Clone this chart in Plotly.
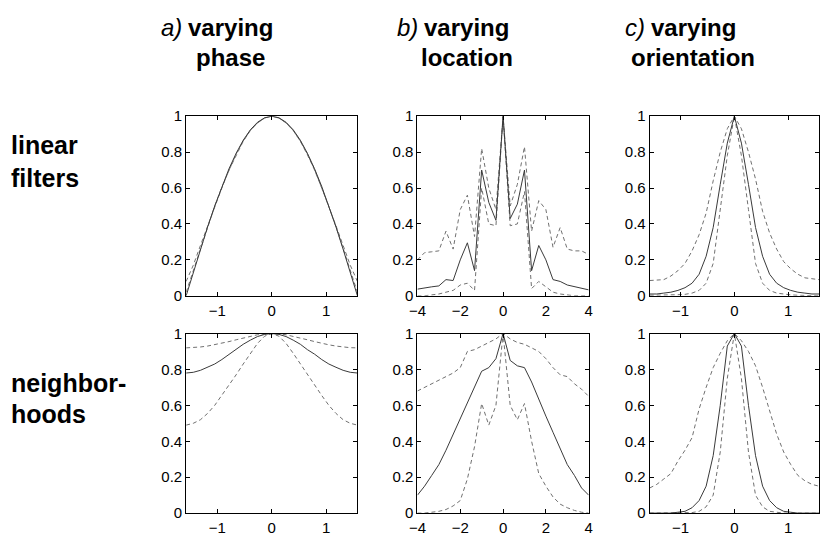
import plotly.graph_objects as go

W, H = 823, 536

# ---------------- data ----------------
x_angle = [-1.571, -1.440, -1.309, -1.178, -1.047, -0.916, -0.785, -0.654, -0.524, -0.393, -0.262, -0.131, 0.0,
           0.131, 0.262, 0.393, 0.524, 0.654, 0.785, 0.916, 1.047, 1.178, 1.309, 1.440, 1.571]
x_loc = [-4, -3.667, -3.333, -3, -2.667, -2.333, -2, -1.667, -1.333, -1, -0.667, -0.333, 0,
         0.333, 0.667, 1, 1.333, 1.667, 2, 2.333, 2.667, 3, 3.333, 3.667, 4]

# linear filters, varying phase
lin_phase_solid = [0.0, 0.131, 0.259, 0.383, 0.5, 0.609, 0.707, 0.793, 0.866, 0.924, 0.966, 0.991, 1.0,
                   0.991, 0.966, 0.924, 0.866, 0.793, 0.707, 0.609, 0.5, 0.383, 0.259, 0.131, 0.0]
lin_phase_dash1 = [0.08, 0.17, 0.28, 0.39, 0.50, 0.60, 0.70, 0.785, 0.86, 0.92, 0.962, 0.99, 1.0,
                   0.99, 0.962, 0.92, 0.86, 0.785, 0.70, 0.60, 0.50, 0.39, 0.28, 0.17, 0.08]
lin_phase_dash2 = [0.02, 0.14, 0.265, 0.385, 0.498, 0.605, 0.703, 0.79, 0.862, 0.921, 0.963, 0.99, 1.0,
                   0.99, 0.963, 0.921, 0.862, 0.79, 0.703, 0.605, 0.498, 0.385, 0.265, 0.14, 0.02]

# linear filters, varying location
lin_loc_solid = [0.037, 0.045, 0.05, 0.055, 0.09, 0.085, 0.2, 0.295, 0.14, 0.70, 0.52, 0.42, 1.0,
                 0.43, 0.51, 0.70, 0.14, 0.28, 0.2, 0.09, 0.08, 0.06, 0.05, 0.04, 0.033]
lin_loc_upper = [0.2, 0.24, 0.245, 0.25, 0.36, 0.26, 0.48, 0.56, 0.33, 0.82, 0.60, 0.48, 1.0,
                 0.50, 0.62, 0.83, 0.36, 0.53, 0.48, 0.27, 0.38, 0.26, 0.25, 0.25, 0.23]
lin_loc_lower = [0.0, 0.0, 0.005, 0.01, 0.02, 0.03, 0.06, 0.07, 0.03, 0.60, 0.40, 0.39, 1.0,
                 0.39, 0.40, 0.58, 0.04, 0.08, 0.05, 0.02, 0.01, 0.005, 0.0, 0.0, 0.0]

# linear filters, varying orientation
lin_ori_solid = [0.01, 0.01, 0.015, 0.02, 0.03, 0.045, 0.07, 0.12, 0.22, 0.38, 0.62, 0.85, 1.0,
                 0.85, 0.62, 0.38, 0.22, 0.12, 0.07, 0.045, 0.03, 0.02, 0.015, 0.01, 0.01]
lin_ori_wide = [0.085, 0.087, 0.09, 0.11, 0.14, 0.18, 0.25, 0.34, 0.46, 0.64, 0.80, 0.93, 1.0,
                0.93, 0.80, 0.65, 0.47, 0.35, 0.26, 0.19, 0.15, 0.12, 0.10, 0.095, 0.09]
lin_ori_narrow = [0.003, 0.003, 0.004, 0.005, 0.006, 0.008, 0.015, 0.03, 0.07, 0.18, 0.48, 0.78, 1.0,
                  0.78, 0.48, 0.18, 0.07, 0.03, 0.015, 0.008, 0.005, 0.003, 0.002, 0.0, 0.0]

# neighborhoods, varying phase
nb_phase_solid = [0.78, 0.784, 0.795, 0.812, 0.83, 0.855, 0.885, 0.91, 0.94, 0.963, 0.983, 0.995, 1.0,
                  0.995, 0.983, 0.963, 0.94, 0.91, 0.885, 0.855, 0.83, 0.812, 0.795, 0.784, 0.78]
nb_phase_upper = [0.92, 0.921, 0.925, 0.93, 0.937, 0.945, 0.955, 0.965, 0.975, 0.985, 0.993, 0.998, 1.0,
                  0.998, 0.993, 0.985, 0.975, 0.965, 0.955, 0.945, 0.937, 0.93, 0.925, 0.921, 0.92]
nb_phase_lower = [0.49, 0.50, 0.52, 0.555, 0.60, 0.655, 0.71, 0.77, 0.83, 0.89, 0.945, 0.985, 1.0,
                  0.985, 0.945, 0.89, 0.83, 0.77, 0.71, 0.655, 0.60, 0.555, 0.52, 0.50, 0.49]

# neighborhoods, varying location
nb_loc_solid = [0.10, 0.15, 0.21, 0.27, 0.35, 0.44, 0.53, 0.62, 0.70, 0.79, 0.81, 0.86, 1.0,
                0.85, 0.82, 0.81, 0.73, 0.64, 0.54, 0.45, 0.36, 0.27, 0.21, 0.14, 0.10]
nb_loc_upper = [0.68, 0.70, 0.72, 0.74, 0.76, 0.78, 0.81, 0.90, 0.91, 0.93, 0.95, 0.97, 1.0,
                0.97, 0.95, 0.94, 0.92, 0.90, 0.86, 0.81, 0.77, 0.76, 0.72, 0.69, 0.65]
nb_loc_lower = [0.0, 0.0, 0.005, 0.01, 0.02, 0.04, 0.07, 0.19, 0.37, 0.61, 0.49, 0.60, 1.0,
                0.60, 0.52, 0.61, 0.40, 0.22, 0.15, 0.09, 0.05, 0.03, 0.015, 0.005, 0.0]

# neighborhoods, varying orientation
nb_ori_solid = [0, 0, 0, 0, 0.005, 0.01, 0.03, 0.07, 0.15, 0.32, 0.60, 0.93, 1.0,
                0.93, 0.60, 0.32, 0.15, 0.07, 0.03, 0.01, 0.005, 0, 0, 0, 0]
nb_ori_narrow = [0, 0, 0, 0, 0, 0, 0.003, 0.01, 0.035, 0.10, 0.34, 0.75, 1.0,
                 0.75, 0.34, 0.10, 0.035, 0.01, 0.003, 0, 0, 0, 0, 0, 0]
nb_ori_wide = [0.14, 0.16, 0.19, 0.22, 0.29, 0.35, 0.42, 0.58, 0.70, 0.81, 0.89, 0.96, 1.0,
               0.96, 0.90, 0.82, 0.70, 0.57, 0.44, 0.34, 0.27, 0.21, 0.18, 0.16, 0.15]

col_titles = [("a)", "varying", "phase"), ("b)", "varying", "location"), ("c)", "varying", "orientation")]
row_titles = [("linear", "filters"), ("neighbor-", "hoods")]
y_ticks = [0, 0.2, 0.4, 0.6, 0.8, 1]
y_tick_text = ["0", "0.2", "0.4", "0.6", "0.8", "1"]
angle_ticks = [-1, 0, 1]
loc_ticks = [-4, -2, 0, 2, 4]

# ---------------- layout helpers ----------------
# the page is shown with an 8 px top offset and a slight vertical squeeze;
# target pixel rows are converted back to figure rows here
V_OFF, V_SCALE = 8.0, 0.9701

def px(x):
    return x / W

def py(y):
    return 1 - ((y - V_OFF) / V_SCALE) / H

col_px = [(180, 354), (415, 589), (651, 823)]
row_px = [(116, 297), (335, 516)]

panels = [
    [(x_angle, lin_phase_solid, [lin_phase_dash1, lin_phase_dash2]),
     (x_loc, lin_loc_solid, [lin_loc_upper, lin_loc_lower]),
     (x_angle, lin_ori_solid, [lin_ori_wide, lin_ori_narrow])],
    [(x_angle, nb_phase_solid, [nb_phase_upper, nb_phase_lower]),
     (x_loc, nb_loc_solid, [nb_loc_upper, nb_loc_lower]),
     (x_angle, nb_ori_solid, [nb_ori_narrow, nb_ori_wide])],
]

SOLID = "#3a3a3a"
DASHC = "#707070"
TICKFONT = dict(family="Liberation Sans, Arial, sans-serif", size=15, color="black")

fig = go.Figure()
layout_axes = {}
k = 0
for r in range(2):
    for c in range(3):
        k += 1
        xs, solid, dashes = panels[r][c]
        xa = "x" if k == 1 else f"x{k}"
        ya = "y" if k == 1 else f"y{k}"
        for d in dashes:
            fig.add_trace(go.Scatter(x=xs, y=d, mode="lines", xaxis=xa, yaxis=ya,
                                     line=dict(color=DASHC, width=1, dash="4px,3px"),
                                     showlegend=False, hoverinfo="skip"))
        fig.add_trace(go.Scatter(x=xs, y=solid, mode="lines", xaxis=xa, yaxis=ya,
                                 line=dict(color=SOLID, width=1),
                                 showlegend=False, hoverinfo="skip"))
        is_loc = (c == 1)
        xrange = [-4, 4] if is_loc else [-1.5708, 1.5708]
        xt = loc_ticks if is_loc else angle_ticks
        x0, x1 = col_px[c]
        y0, y1 = row_px[r]
        common = dict(showline=True, linecolor="black", linewidth=1, mirror="ticks",
                      ticks="inside", ticklen=4, tickcolor="black", tickwidth=1,
                      showgrid=False, zeroline=False, tickfont=TICKFONT, fixedrange=True)
        layout_axes["xaxis" if k == 1 else f"xaxis{k}"] = dict(
            domain=[px(x0), min(1.0, px(x1))], range=xrange, tickvals=xt,
            anchor=ya, ticklabelstandoff=1, **common)
        layout_axes["yaxis" if k == 1 else f"yaxis{k}"] = dict(
            domain=[py(y1), py(y0)], range=[0, 1], tickvals=y_ticks, ticktext=y_tick_text,
            anchor=xa, **common)

fig.update_layout(**layout_axes)

ann = []
TFONT = dict(family="Liberation Sans, Arial, sans-serif", size=24, color="black")
centers = [225, 465, 695]
for (lab, l1, l2), cx in zip(col_titles, centers):
    ann.append(dict(x=px(cx), y=py(27), xref="paper", yref="paper", text=f"<b>{l1}</b>",
                    showarrow=False, xanchor="center", yanchor="middle", font=TFONT))
    ann.append(dict(x=px(cx - 47), y=py(27), xref="paper", yref="paper", text=f"<i>{lab}</i>",
                    showarrow=False, xanchor="right", yanchor="middle", font=TFONT))
    ann.append(dict(x=px(cx), y=py(57), xref="paper", yref="paper", text=f"<b>{l2}</b>",
                    showarrow=False, xanchor="center", yanchor="middle", font=TFONT))

RFONT = dict(family="Liberation Sans, Arial, sans-serif", size=25, color="black")
row_y = [(145, 178), (385, 416)]
for (l1, l2), (ya1, ya2) in zip(row_titles, row_y):
    ann.append(dict(x=px(0), y=py(ya1), xref="paper", yref="paper", text=f"<b>{l1}</b>",
                    showarrow=False, xanchor="left", yanchor="middle", font=RFONT))
    ann.append(dict(x=px(0), y=py(ya2), xref="paper", yref="paper", text=f"<b>{l2}</b>",
                    showarrow=False, xanchor="left", yanchor="middle", font=RFONT))

fig.update_layout(
    width=W, height=H, margin=dict(l=0, r=0, t=0, b=0),
    paper_bgcolor="white", plot_bgcolor="white",
    annotations=ann, showlegend=False,
)

fig.write_html(
    "out.html",
    config={"displayModeBar": False},
    post_script="document.body.style.margin='0';document.body.style.padding='0';"
                "document.documentElement.style.overflow='hidden';",
)
